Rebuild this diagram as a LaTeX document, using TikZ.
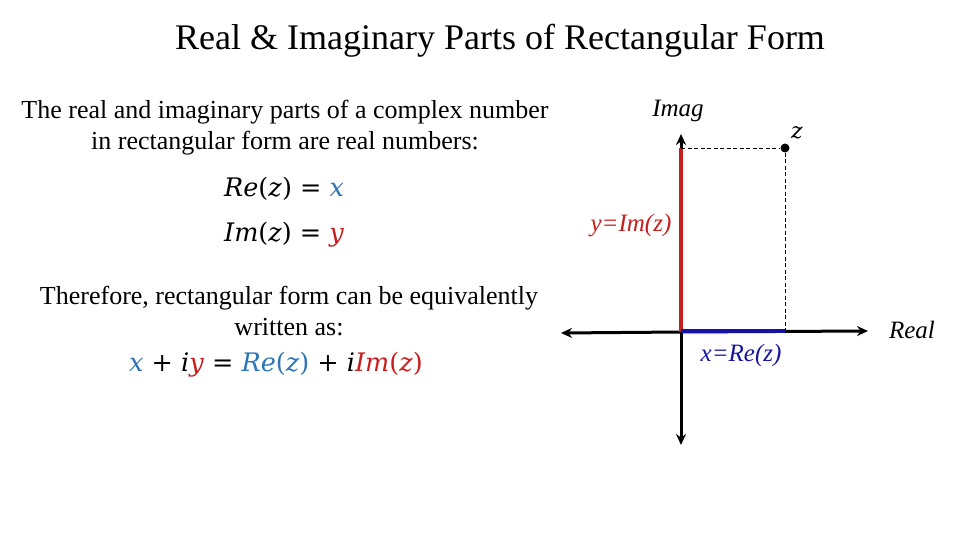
\documentclass[tikz,border=0pt]{standalone}
\usepackage{fontspec}
\setmainfont{Liberation Serif}
\newfontfamily\eqfont{DejaVu Serif}
\usetikzlibrary{arrows.meta}
\newcommand{\qi}[1]{\textit{#1}}
\begin{document}
\begin{tikzpicture}[x=1pt,y=-1pt,
  txt/.style={font=\fontsize{26}{31}\selectfont,align=center,inner sep=0},
  eq/.style={font=\eqfont\fontsize{25.5}{30}\selectfont,inner sep=0},
  lab/.style={font=\fontsize{25}{28}\selectfont\itshape,inner sep=0},
  ax/.style={line width=3pt,-{Stealth[length=11pt,width=10pt]}},
  dashline/.style={line width=0.8pt,dash pattern=on 4pt off 2.5pt}]
\useasboundingbox (0,0) rectangle (960,540);
\definecolor{eqblue}{RGB}{46,117,182}
\definecolor{eqred}{RGB}{200,30,30}
\definecolor{dblue}{RGB}{20,20,160}
\node[font=\fontsize{36}{40}\selectfont,inner sep=0] (title) at (500,41) {Real \& Imaginary Parts of Rectangular Form};
\node[txt] (t1) at (285,128) {The real and imaginary parts of a complex number\\in rectangular form are real numbers:};
\node[eq,anchor=west] (e1) at (224,189) {\qi{Re}(\qi{z}) = \textcolor{eqblue}{\qi{x}}};
\node[eq,anchor=west] (e2) at (224,235) {\qi{Im}(\qi{z}) = \textcolor{eqred}{\qi{y}}};
\node[txt] (t2) at (289,311) {Therefore, rectangular form can be equivalently\\written as:};
\node[eq] (e3) at (276,365) {\textcolor{eqblue}{\qi{x}} + \qi{i}\textcolor{eqred}{\qi{y}} = \textcolor{eqblue}{\qi{Re}(\qi{z})} + \qi{i}\textcolor{eqred}{\qi{Im}(\qi{z})}};
\coordinate (O) at (681,332);
\coordinate (L) at (561,333);
\coordinate (R) at (868,331);
\coordinate (T) at (681,134);
\coordinate (B) at (681,445);
\coordinate (Y) at (681,148);
\coordinate (X) at (785,331);
\draw[ax] (O) -- (L);
\draw[ax] (O) -- (R);
\draw[ax] (O) -- (T);
\draw[ax] (O) -- (B);
\draw[eqred,line width=3.5pt] (681,332) -- (Y);
\draw[dblue,line width=3.5pt] (681,331) -- (X);
\node[circle,fill=black,inner sep=0,minimum size=9pt] (z) at (785,148) {};
\draw[dashline] (Y) -- (z) -- (X);
\node[font=\eqfont\fontsize{22}{26}\selectfont\itshape,inner sep=0] (zl) at (797,133) {z};
\node[lab] (imag) at (678,111) {Imag};
\node[lab] (real) at (912,330) {Real};
\node[lab,text=eqred] (ylab) at (631,226) {y=Im(z)};
\node[lab,text=dblue] (xlab) at (741,355) {x=Re(z)};
\end{tikzpicture}
\end{document}
